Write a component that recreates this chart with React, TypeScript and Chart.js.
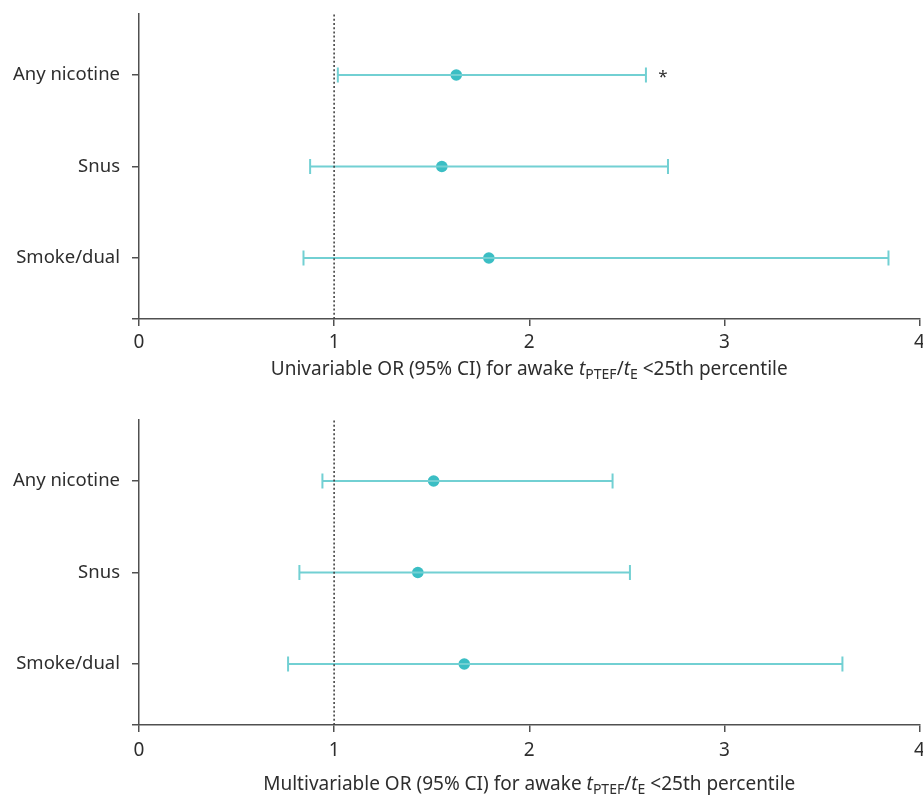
import React, { useEffect, useRef } from "react";
import { Chart, registerables } from "chart.js";

Chart.register(...registerables);

// ---------- data ----------
const categories = ["Any nicotine", "Snus", "Smoke/dual"];

const uniOR = [1.626, 1.552, 1.793];
const uniLow = [1.019, 0.877, 0.843];
const uniHigh = [2.598, 2.711, 3.841];
const uniSig = ["*", "", ""];

const multiOR = [1.51, 1.429, 1.667];
const multiLow = [0.94, 0.822, 0.764];
const multiHigh = [2.427, 2.516, 3.605];
const multiSig = ["", "", ""];

const xTickValues = [0, 1, 2, 3, 4];
const referenceValue = 1;

// title pieces: [text, kind] where kind = "n" normal, "i" italic, "s" subscript
const uniTitle: [string, string][] = [
  ["Univariable OR (95% CI) for awake ", "n"],
  ["t", "i"],
  ["PTEF", "s"],
  ["/", "n"],
  ["t", "i"],
  ["E", "s"],
  [" <25th percentile", "n"],
];
const multiTitle: [string, string][] = [
  ["Multivariable OR (95% CI) for awake ", "n"],
  ["t", "i"],
  ["PTEF", "s"],
  ["/", "n"],
  ["t", "i"],
  ["E", "s"],
  [" <25th percentile", "n"],
];

// ---------- style ----------
const FONT = "'Noto Sans', sans-serif";
const TEXT = "#2e2e2e";
const AXIS = "#505050";
const WHISKER = "#72d0d3";
const DOT = "#3bbec4";
const CANVAS_W = 929;
const CANVAS_H = 389;

function makeConfig(
  or: number[],
  low: number[],
  high: number[],
  sig: string[],
  title: [string, string][],
  tickPad: number,
  titleOffset: number
) {
  const n = categories.length;
  const yVals = categories.map((_, i) => n - i);
  const yMin = 1 / 3;
  const yMax = n + 2 / 3;

  const datasets: any[] = [];
  datasets.push({
    data: [
      { x: referenceValue, y: yMin },
      { x: referenceValue, y: yMax },
    ],
    showLine: true,
    borderColor: "#444444",
    borderWidth: 1.6,
    borderDash: [2, 2.2],
    pointRadius: 0,
  });
  categories.forEach((_, i) => {
    datasets.push({
      data: [
        { x: low[i], y: yVals[i] },
        { x: high[i], y: yVals[i] },
      ],
      showLine: true,
      borderColor: WHISKER,
      borderWidth: 2,
      pointStyle: "line",
      rotation: 90,
      pointRadius: 7.5,
      pointBorderColor: WHISKER,
      pointBorderWidth: 2,
      pointBackgroundColor: WHISKER,
    });
  });
  datasets.push({
    data: categories.map((_, i) => ({ x: or[i], y: yVals[i] })),
    pointRadius: 5.8,
    pointBackgroundColor: DOT,
    pointBorderWidth: 0,
    borderWidth: 0,
  });

  const decorPlugin = {
    id: "decor",
    afterDraw(chart: any) {
      const ctx = chart.ctx;
      const xs = chart.scales.x;
      const ys = chart.scales.y;
      const area = chart.chartArea;
      ctx.save();
      // significance marks
      ctx.fillStyle = TEXT;
      ctx.font = `17px ${FONT}`;
      ctx.textAlign = "center";
      ctx.textBaseline = "middle";
      sig.forEach((s, i) => {
        if (!s) return;
        const px = xs.getPixelForValue(high[i]) + 17;
        const py = ys.getPixelForValue(yVals[i]) + 2;
        ctx.fillText(s, px, py);
      });
      // axis title with rich text
      const normal = `19px ${FONT}`;
      const italic = `italic 19px ${FONT}`;
      const sub = `14px ${FONT}`;
      const fontFor = (k: string) => (k === "i" ? italic : k === "s" ? sub : normal);
      let total = 0;
      title.forEach(([t, k]) => {
        ctx.font = fontFor(k);
        total += ctx.measureText(t).width;
      });
      let x = (area.left + area.right) / 2 - total / 2;
      const baseline = area.bottom + titleOffset;
      ctx.textAlign = "left";
      ctx.textBaseline = "alphabetic";
      title.forEach(([t, k]) => {
        ctx.font = fontFor(k);
        ctx.fillText(t, x, k === "s" ? baseline + 4 : baseline);
        x += ctx.measureText(t).width;
      });
      ctx.restore();
    },
  };

  return {
    type: "scatter" as const,
    data: { datasets },
    plugins: [decorPlugin],
    options: {
      animation: false as const,
      responsive: false,
      events: [],
      layout: { padding: { top: 14, right: 4, left: 0, bottom: 0 } },
      plugins: {
        legend: { display: false },
        tooltip: { enabled: false },
        title: { display: false },
      },
      scales: {
        x: {
          type: "linear" as const,
          min: 0,
          max: 4,
          afterBuildTicks: (s: any) => {
            s.ticks = xTickValues.map((v) => ({ value: v }));
          },
          afterFit: (s: any) => {
            s.height = CANVAS_H - 319;
            s.paddingLeft = 0;
            s.paddingRight = 0;
          },
          ticks: {
            font: { family: FONT, size: 19 },
            color: TEXT,
            padding: tickPad,
            maxRotation: 0,
          },
          grid: {
            drawOnChartArea: false,
            drawTicks: true,
            tickLength: 7,
            color: AXIS,
            lineWidth: 1.5,
          },
          border: { display: true, color: AXIS, width: 1.5 },
        },
        y: {
          type: "linear" as const,
          min: yMin,
          max: yMax,
          afterBuildTicks: (s: any) => {
            s.ticks = [yMin, ...yVals].map((v) => ({ value: v }));
          },
          afterFit: (s: any) => {
            s.width = 139;
            s.paddingTop = 0;
            s.paddingBottom = 0;
          },
          ticks: {
            font: { family: FONT, size: 18.5 },
            color: TEXT,
            padding: 12,
            callback: (v: any) => {
              const idx = yVals.findIndex((y) => Math.abs(y - v) < 1e-6);
              return idx >= 0 ? categories[idx] : "";
            },
          },
          grid: {
            drawOnChartArea: false,
            drawTicks: true,
            tickLength: 7,
            color: AXIS,
            lineWidth: 1.5,
          },
          border: { display: true, color: AXIS, width: 1.5 },
        },
      },
    },
  };
}

function ForestChart(props: {
  or: number[];
  low: number[];
  high: number[];
  sig: string[];
  title: [string, string][];
  top: number;
  tickPad: number;
  titleOffset: number;
}) {
  const ref = useRef<HTMLCanvasElement | null>(null);
  useEffect(() => {
    if (!ref.current) return;
    const chart = new Chart(
      ref.current,
      makeConfig(
        props.or,
        props.low,
        props.high,
        props.sig,
        props.title,
        props.tickPad,
        props.titleOffset
      ) as any
    );
    return () => chart.destroy();
  }, []);
  return (
    <canvas
      ref={ref}
      width={CANVAS_W}
      height={CANVAS_H}
      style={{
        position: "absolute",
        left: 0,
        top: props.top,
        width: CANVAS_W,
        height: CANVAS_H,
        display: "block",
      }}
    />
  );
}

export default function App() {
  return (
    <div
      style={{
        position: "absolute",
        left: 0,
        top: 0,
        width: 923,
        height: 795,
        overflow: "hidden",
        background: "#ffffff",
      }}
    >
      <ForestChart
        or={uniOR}
        low={uniLow}
        high={uniHigh}
        sig={uniSig}
        title={uniTitle}
        top={0}
        tickPad={5}
        titleOffset={56}
      />
      <ForestChart
        or={multiOR}
        low={multiLow}
        high={multiHigh}
        sig={multiSig}
        title={multiTitle}
        top={406}
        tickPad={7}
        titleOffset={65}
      />
    </div>
  );
}
